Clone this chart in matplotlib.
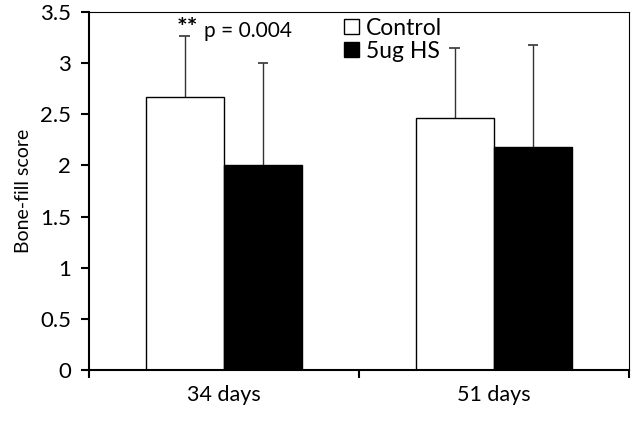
import matplotlib
matplotlib.use("Agg")
import matplotlib.pyplot as plt
from matplotlib.patches import Patch
import numpy as np

plt.rcParams["font.family"] = ["Lato", "DejaVu Sans"]

groups = ["34 days", "51 days"]
control = [2.67, 2.46]
control_sd = [0.60, 0.69]
hs = [2.00, 2.18]
hs_sd = [1.00, 1.00]

x = np.arange(len(groups))
w = 0.29

fig = plt.figure(figsize=(6.37, 4.22), dpi=100)
ax = fig.add_axes([0.1397, 0.1232, 0.8473, 0.8484])

ax.bar(x - w / 2, control, w, color="white", edgecolor="black", linewidth=1, zorder=2)
ax.bar(x + w / 2, hs, w, color="black", edgecolor="black", linewidth=1, zorder=2)

# upper-only error bars
cap = 0.02
for xs, m, sd in [(x - w / 2, control, control_sd), (x + w / 2, hs, hs_sd)]:
    tops = np.array(m) + np.array(sd)
    ax.vlines(xs, m, tops, color="#333333", lw=1, zorder=1)
    ax.hlines(tops, xs - cap, xs + cap, color="#333333", lw=1.2, zorder=1)

ax.set_xlim(-0.5, 1.5)
ax.set_ylim(0, 3.5)
ax.set_yticks(np.arange(0, 3.51, 0.5))
ax.set_yticklabels(["0", "0.5", "1", "1.5", "2", "2.5", "3", "3.5"], fontsize=16)
ax.set_xticks([-0.5, 0.5, 1.5])
ax.set_xticklabels([])
ax.set_xticks(x, minor=True)
ax.set_xticklabels(groups, minor=True, fontsize=15.5)
ax.tick_params(axis="x", which="minor", length=0, pad=11)
ax.tick_params(axis="both", which="major", direction="out", length=6, width=1.5)
ax.tick_params(axis="y", pad=7)
for s in ["left", "bottom"]:
    ax.spines[s].set_linewidth(1.5)
for s in ["top", "right"]:
    ax.spines[s].set_linewidth(0.8)
ax.set_ylabel("Bone-fill score", fontsize=14, labelpad=6)

ax.text(-0.175, 3.34, "**", fontsize=18, fontweight="bold", ha="left", va="center")
ax.text(-0.072, 3.31, "p = 0.004", fontsize=15, ha="left", va="center")

handles = [Patch(facecolor="white", edgecolor="black", label="Control"),
           Patch(facecolor="black", edgecolor="black", label="5ug HS")]
ax.legend(handles=handles, loc="upper left", bbox_to_anchor=(0.455, 1.01),
          frameon=False, fontsize=16.5, handlelength=0.65, handleheight=0.65,
          handletextpad=0.3, labelspacing=0.1, borderaxespad=0)

fig.savefig("out.png", dpi=100)
